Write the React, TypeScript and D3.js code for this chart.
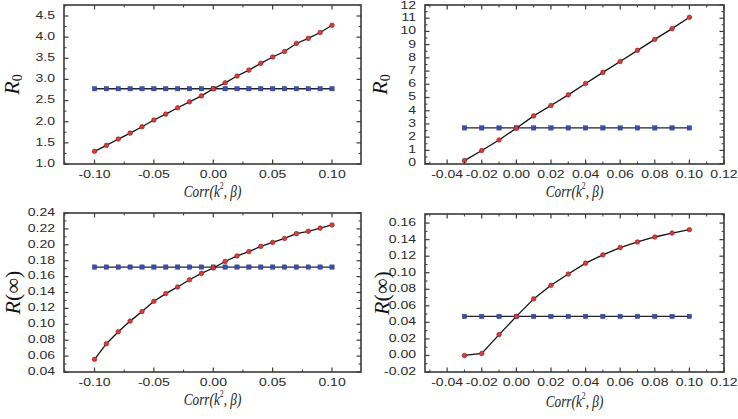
import React from "react";
import * as d3 from "d3";

// ---------- data ----------
const xA = [-0.10, -0.09, -0.08, -0.07, -0.06, -0.05, -0.04, -0.03, -0.02, -0.01, 0.00, 0.01, 0.02, 0.03, 0.04, 0.05, 0.06, 0.07, 0.08, 0.09, 0.10];
const xB = [-0.03, -0.02, -0.01, 0.00, 0.01, 0.02, 0.03, 0.04, 0.05, 0.06, 0.07, 0.08, 0.09, 0.10];

const r0A = [1.30, 1.44, 1.59, 1.73, 1.88, 2.04, 2.18, 2.33, 2.47, 2.61, 2.78, 2.92, 3.08, 3.22, 3.38, 3.53, 3.66, 3.85, 3.97, 4.11, 4.28];
const r0AConst = [2.78, 2.78, 2.78, 2.78, 2.78, 2.78, 2.78, 2.78, 2.78, 2.78, 2.78, 2.78, 2.78, 2.78, 2.78, 2.78, 2.78, 2.78, 2.78, 2.78, 2.78];

const r0B = [0.23, 0.99, 1.79, 2.68, 3.61, 4.40, 5.20, 6.06, 6.90, 7.73, 8.57, 9.40, 10.21, 11.07];
const r0BConst = [2.70, 2.70, 2.70, 2.70, 2.70, 2.70, 2.70, 2.70, 2.70, 2.70, 2.70, 2.70, 2.70, 2.70];

const rinfA = [0.056, 0.0756, 0.0906, 0.104, 0.116, 0.1289, 0.1386, 0.147, 0.156, 0.164, 0.1708, 0.179, 0.186, 0.1915, 0.198, 0.203, 0.208, 0.214, 0.217, 0.221, 0.225];
const rinfAConst = [0.172, 0.172, 0.172, 0.172, 0.172, 0.172, 0.172, 0.172, 0.172, 0.172, 0.172, 0.172, 0.172, 0.172, 0.172, 0.172, 0.172, 0.172, 0.172, 0.172, 0.172];

const rinfB = [0.000, 0.0024, 0.0252, 0.0472, 0.0684, 0.0848, 0.0984, 0.1116, 0.1216, 0.1304, 0.1372, 0.1432, 0.148, 0.152];
const rinfBConst = [0.0472, 0.0472, 0.0472, 0.0472, 0.0472, 0.0472, 0.0472, 0.0472, 0.0472, 0.0472, 0.0472, 0.0472, 0.0472, 0.0472];

const xTicksA = [-0.10, -0.05, 0.00, 0.05, 0.10];
const xMinorA = [-0.125, -0.075, -0.025, 0.025, 0.075, 0.125];
const xTicksB = [-0.04, -0.02, 0.00, 0.02, 0.04, 0.06, 0.08, 0.10, 0.12];
const xMinorB = [-0.05, -0.03, -0.01, 0.01, 0.03, 0.05, 0.07, 0.09, 0.11];

const yTicks1 = [1.0, 1.5, 2.0, 2.5, 3.0, 3.5, 4.0, 4.5];
const yMinor1 = [1.25, 1.75, 2.25, 2.75, 3.25, 3.75, 4.25, 4.75];
const yTicks2 = [0, 1, 2, 3, 4, 5, 6, 7, 8, 9, 10, 11, 12];
const yMinor2 = [0.5, 1.5, 2.5, 3.5, 4.5, 5.5, 6.5, 7.5, 8.5, 9.5, 10.5, 11.5];
const yTicks3 = [0.04, 0.06, 0.08, 0.10, 0.12, 0.14, 0.16, 0.18, 0.20, 0.22, 0.24];
const yMinor3 = [0.05, 0.07, 0.09, 0.11, 0.13, 0.15, 0.17, 0.19, 0.21, 0.23];
const yTicks4 = [-0.02, 0.00, 0.02, 0.04, 0.06, 0.08, 0.10, 0.12, 0.14, 0.16];
const yMinor4 = [-0.01, 0.01, 0.03, 0.05, 0.07, 0.09, 0.11, 0.13, 0.15, 0.17];

type PanelProps = {
  box: [number, number, number, number]; // x0, x1, y0, y1
  xDomain: [number, number];
  yDomain: [number, number];
  xs: number[];
  red: number[];
  blue: number[];
  xTicks: number[];
  xMinor: number[];
  yTicks: number[];
  yMinor: number[];
  xFmt: (v: number) => string;
  yFmt: (v: number) => string;
  yLabel: "R0" | "Rinf";
  yLabelX: number;
  titleY: number;
  tickLabelY: number;
};

const FRAME = "#3a3a3a";
const TICKFONT = "'Liberation Sans', Arial, sans-serif";
const SERIF = "'Liberation Serif', 'Times New Roman', serif";
const TFS = 10.8;
const TSX = 1.3;

function Panel(p: PanelProps) {
  const [x0, x1, y0, y1] = p.box;
  const x = d3.scaleLinear().domain(p.xDomain).range([x0, x1]);
  const y = d3.scaleLinear().domain(p.yDomain).range([y1, y0]);
  const line = d3.line<number>().x((_, i) => x(p.xs[i])).y((d) => y(d));
  const inX = (v: number) => v >= p.xDomain[0] - 1e-9 && v <= p.xDomain[1] + 1e-9;
  const inY = (v: number) => v >= p.yDomain[0] - 1e-9 && v <= p.yDomain[1] + 1e-9;
  const MAJ = 4.5;
  const MIN = 2.5;
  const cx = (x0 + x1) / 2;
  const cy = (y0 + y1) / 2;
  return (
    <g>
      {/* data */}
      <path d={line(p.blue) || ""} fill="none" stroke="#222" strokeWidth={1.3} />
      {p.blue.map((v, i) => (
        <rect key={"b" + i} x={x(p.xs[i]) - 2.2} y={y(v) - 2.2} width={4.4} height={4.4} fill="#3a4db0" stroke="#2a3580" strokeWidth={0.4} />
      ))}
      <path d={line(p.red) || ""} fill="none" stroke="#111" strokeWidth={1.3} />
      {p.red.map((v, i) => (
        <circle key={"r" + i} cx={x(p.xs[i])} cy={y(v)} r={2.3} fill="#d93a3a" stroke="#8a1f1f" strokeWidth={0.6} />
      ))}
      {/* frame */}
      <rect x={x0} y={y0} width={x1 - x0} height={y1 - y0} fill="none" stroke={FRAME} strokeWidth={1.6} />
      {/* x ticks */}
      {p.xTicks.filter(inX).map((t) => (
        <g key={"xt" + t}>
          <line x1={x(t)} x2={x(t)} y1={y1} y2={y1 - MAJ} stroke={FRAME} strokeWidth={1.2} />
          <line x1={x(t)} x2={x(t)} y1={y0} y2={y0 + MAJ} stroke={FRAME} strokeWidth={1.2} />
          <text transform={`translate(${x(t)},${p.tickLabelY}) scale(${TSX},1)`} textAnchor="middle" dominantBaseline="middle" fontFamily={TICKFONT} fontSize={TFS} fill="#2a2a2a">
            {p.xFmt(t)}
          </text>
        </g>
      ))}
      {p.xMinor.filter(inX).map((t) => (
        <g key={"xm" + t}>
          <line x1={x(t)} x2={x(t)} y1={y1} y2={y1 - MIN} stroke={FRAME} strokeWidth={1} />
          <line x1={x(t)} x2={x(t)} y1={y0} y2={y0 + MIN} stroke={FRAME} strokeWidth={1} />
        </g>
      ))}
      {/* y ticks */}
      {p.yTicks.filter(inY).map((t) => (
        <g key={"yt" + t}>
          <line x1={x0} x2={x0 + MAJ} y1={y(t)} y2={y(t)} stroke={FRAME} strokeWidth={1.2} />
          <line x1={x1} x2={x1 - MAJ} y1={y(t)} y2={y(t)} stroke={FRAME} strokeWidth={1.2} />
          <text transform={`translate(${x0 - 9},${Math.max(y(t), 6)}) scale(${TSX},1)`} textAnchor="end" dominantBaseline="middle" fontFamily={TICKFONT} fontSize={TFS} fill="#2a2a2a">
            {p.yFmt(t)}
          </text>
        </g>
      ))}
      {p.yMinor.filter(inY).map((t) => (
        <g key={"ym" + t}>
          <line x1={x0} x2={x0 + MIN} y1={y(t)} y2={y(t)} stroke={FRAME} strokeWidth={1} />
          <line x1={x1} x2={x1 - MIN} y1={y(t)} y2={y(t)} stroke={FRAME} strokeWidth={1} />
        </g>
      ))}
      {/* x title */}
      <g transform={`translate(${cx},${p.titleY}) scale(0.78,1)`}>
        <text x={0} y={0} textAnchor="middle" dominantBaseline="middle" fontFamily={SERIF} fontStyle="italic" fontSize={17} fill="#222">
          Corr(k
          <tspan fontSize={10} dy={-6} fontStyle="normal">2</tspan>
          <tspan dy={6}>, β)</tspan>
        </text>
      </g>
      {/* y title */}
      <g transform={`translate(${p.yLabelX},${cy}) rotate(-90)`}>
        {p.yLabel === "R0" ? (
          <text x={0} y={0} textAnchor="middle" dominantBaseline="middle" fontFamily={SERIF} fontSize={22} fill="#111">
            <tspan fontStyle="italic">R</tspan>
            <tspan fontSize={14} dy={5}>0</tspan>
          </text>
        ) : (
          <text x={0} y={0} textAnchor="middle" dominantBaseline="middle" fontFamily={SERIF} fontSize={22} fill="#111">
            <tspan fontStyle="italic">R</tspan>
            <tspan>(∞)</tspan>
          </text>
        )}
      </g>
    </g>
  );
}

const f2 = (v: number) => d3.format(".2f")(v).replace("−", "-");
const f1 = (v: number) => d3.format(".1f")(v).replace("−", "-");
const f0 = (v: number) => d3.format("d")(v);

export default function App() {
  return (
    <svg width={738} height={419} style={{ position: "absolute", left: 0, top: 0, background: "#fff" }}>
      <Panel box={[64, 361, 5, 164]} xDomain={[-0.1257, 0.1244]} yDomain={[1.0, 4.76]} xs={xA} red={r0A} blue={r0AConst}
        xTicks={xTicksA} xMinor={xMinorA} yTicks={yTicks1} yMinor={yMinor1} xFmt={f2} yFmt={f1} yLabel="R0" yLabelX={14} titleY={193} tickLabelY={175} />
      <Panel box={[425, 724, 5, 164]} xDomain={[-0.0528, 0.12]} yDomain={[-0.03, 12.0]} xs={xB} red={r0B} blue={r0BConst}
        xTicks={xTicksB} xMinor={xMinorB} yTicks={yTicks2} yMinor={yMinor2} xFmt={f2} yFmt={f0} yLabel="R0" yLabelX={382} titleY={193} tickLabelY={175} />
      <Panel box={[64, 361, 213, 372]} xDomain={[-0.1257, 0.1244]} yDomain={[0.04, 0.24]} xs={xA} red={rinfA} blue={rinfAConst}
        xTicks={xTicksA} xMinor={xMinorA} yTicks={yTicks3} yMinor={yMinor3} xFmt={f2} yFmt={f2} yLabel="Rinf" yLabelX={15} titleY={401} tickLabelY={383} />
      <Panel box={[425, 724, 214, 372]} xDomain={[-0.0528, 0.12]} yDomain={[-0.02, 0.171]} xs={xB} red={rinfB} blue={rinfBConst}
        xTicks={xTicksB} xMinor={xMinorB} yTicks={yTicks4} yMinor={yMinor4} xFmt={f2} yFmt={f2} yLabel="Rinf" yLabelX={384} titleY={403} tickLabelY={383} />
    </svg>
  );
}
